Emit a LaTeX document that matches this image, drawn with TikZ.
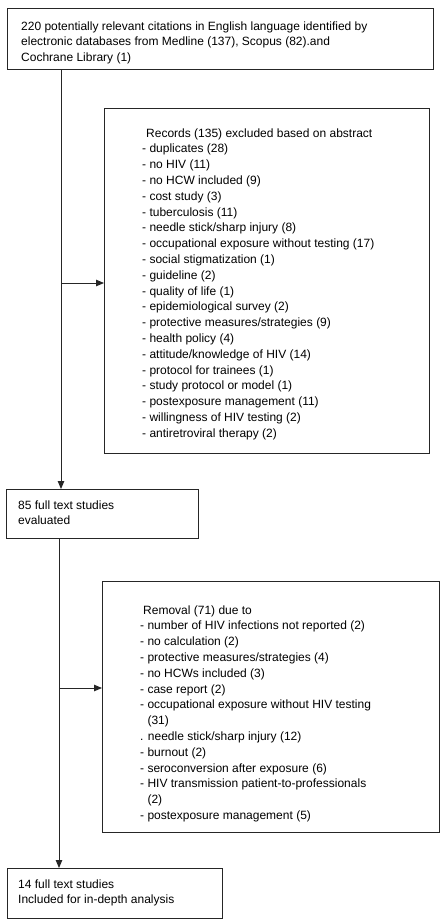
\documentclass[tikz,border=0pt]{standalone}
\usepackage{fontspec}
\setmainfont{Liberation Sans}
\usetikzlibrary{arrows.meta}
\begin{document}
\begin{tikzpicture}[x=1pt,y=-1pt,
  box/.style={draw=black!85, line width=0.9pt, rectangle, inner sep=0pt, anchor=north west},
  txt/.style={anchor=base west, inner sep=0pt, align=left, font=\fontsize{12pt}{15.8pt}\selectfont},
  arr/.style={draw=black!85, line width=0.9pt, -{Triangle[length=8pt,width=6.5pt]}},
  ln/.style={draw=black!85, line width=0.9pt}]
\useasboundingbox[fill=white] (0,0) rectangle (446,924);
% boxes
\node[box, minimum width=426pt, minimum height=61pt] (b1) at (7,8) {};
\node[box, minimum width=325pt, minimum height=345pt] (b2) at (104,108) {};
\node[box, minimum width=192pt, minimum height=49pt] (b3) at (6,489) {};
\node[box, minimum width=337pt, minimum height=251pt] (b4) at (102,581) {};
\node[box, minimum width=215pt, minimum height=50pt] (b5) at (7,868) {};
% texts (anchored at the baseline of their last line)
\node[txt] (t1) at (21,61.6) {220 potentially relevant citations in English language identified by\\
electronic databases from Medline (137), Scopus (82).and\\
Cochrane Library (1)};
\node[txt] (t2) at (142,437.2) {\hspace*{4pt}Records (135) excluded based on abstract\\
- duplicates (28)\\
- no HIV (11)\\
- no HCW included (9)\\
- cost study (3)\\
- tuberculosis (11)\\
- needle stick/sharp injury (8)\\
- occupational exposure without testing (17)\\
- social stigmatization (1)\\
- guideline (2)\\
- quality of life (1)\\
- epidemiological survey (2)\\
- protective measures/strategies (9)\\
- health policy (4)\\
- attitude/knowledge of HIV (14)\\
- protocol for trainees (1)\\
- study protocol or model (1)\\
- postexposure management (11)\\
- willingness of HIV testing (2)\\
- antiretroviral therapy (2)};
\node[txt] (t3) at (18,524.8) {85 full text studies\\evaluated};
\node[txt] (t4) at (140,819.4) {\hspace*{3pt}Removal (71) due to\\
- number of HIV infections not reported (2)\\
- no calculation (2)\\
- protective measures/strategies (4)\\
- no HCWs included (3)\\
- case report (2)\\
- occupational exposure without HIV testing\\
\hphantom{-}\ (31)\\
. needle stick/sharp injury (12)\\
- burnout (2)\\
- seroconversion after exposure (6)\\
- HIV transmission patient-to-professionals\\
\hphantom{-}\ (2)\\
- postexposure management (5)};
\node[txt] (t5) at (18,903.8) {14 full text studies\\Included for in-depth analysis};
% connectors
\coordinate (x1) at (61,283);
\coordinate (x2) at (59,688);
\draw[arr] (b1.south west -| x1) -- (b3.north west -| x1);
\draw[arr] (x1) -- (b2.west |- x1);
\draw[arr] (b3.south west -| x2) -- (b5.north west -| x2);
\draw[arr] (x2) -- (b4.west |- x2);
\end{tikzpicture}
\end{document}
